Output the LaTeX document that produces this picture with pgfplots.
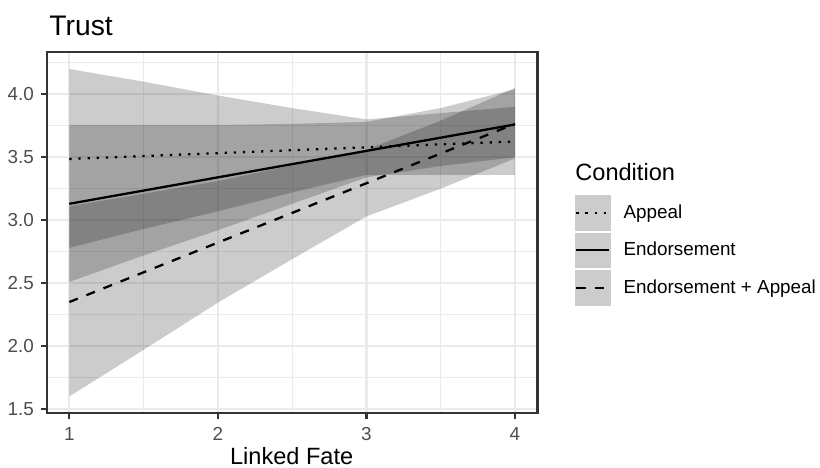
\documentclass[border=0pt]{standalone}
\usepackage{fontspec}
\setmainfont{Liberation Sans}
\usepackage{pgfplots}
\pgfplotsset{compat=1.18}
\definecolor{gray20}{HTML}{333333}
\definecolor{gray30}{HTML}{4D4D4D}
\definecolor{gray92}{HTML}{EBEBEB}
\definecolor{keyfill}{HTML}{CCCCCC}
\begin{document}
\begin{tikzpicture}
\path[use as bounding box] (-21.8pt,-25.2pt) rectangle (361.1pt,192.9pt);
\begin{axis}[
  scale only axis, width=229.2pt, height=168.6pt,
  at={(0,0)}, anchor=south west,
  xmin=0.848, xmax=4.152, ymin=1.468, ymax=4.335,
  xtick={1,2,3,4}, ytick={1.5,2.0,2.5,3.0,3.5,4.0},
  minor xtick={1.5,2.5,3.5}, minor ytick={1.75,2.25,2.75,3.25,3.75,4.25},
  /pgf/number format/assume math mode=true,
  yticklabel style={xshift=-3.05pt, /pgf/number format/fixed, /pgf/number format/fixed zerofill, /pgf/number format/precision=1},
  xticklabel style={yshift=-3.75pt},
  grid=both,
  major grid style={gray92, line width=1.07pt},
  minor grid style={gray92, line width=0.53pt},
  tick align=outside, xtick pos=left, ytick pos=left,
  major tick length=2.75pt, minor tick length=0pt,
  major tick style={gray20, line width=1.07pt},
  axis line style={gray20, line width=1pt},
  ticklabel style={font=\fontsize{8.8}{10}\selectfont, text=gray30, inner sep=0pt},
  legend style={at={(1.0764,0.6038)}, anchor=north west, draw=none, fill=none,
    inner sep=0pt, outer sep=0pt, row sep=0.9pt, column sep=6.1pt,
    font=\fontsize{8.8}{10}\selectfont, nodes={inner sep=0pt}},
  legend cell align=left,
  legend image code/.code={%
    \path[fill=keyfill, draw=none] (0pt,-8.3pt) rectangle (16.6pt,8.3pt);
    \draw[#1, fill=none] (0.6pt,0pt) -- (16pt,0pt);},
]
% ribbons (confidence bands)
\addplot[draw=none, fill=black, fill opacity=0.2, forget plot] coordinates {
 (1,4.20)(1.5,4.10)(2,3.99)(2.5,3.89)(3,3.80)(3.5,3.85)(4,3.90)
 (4,3.36)(3.5,3.36)(3,3.36)(2.5,3.22)(2,3.07)(1.5,2.93)(1,2.78)} -- cycle;
\addplot[draw=none, fill=black, fill opacity=0.2, forget plot] coordinates {
 (1,3.756)(1.5,3.756)(2,3.756)(2.5,3.765)(3,3.78)(3.5,3.89)(4,4.04)
 (4,3.50)(3.5,3.43)(3,3.34)(2.5,3.13)(2,2.92)(1.5,2.72)(1,2.51)} -- cycle;
\addplot[draw=none, fill=black, fill opacity=0.2, forget plot] coordinates {
 (1,3.11)(1.5,3.21)(2,3.31)(2.5,3.435)(3,3.56)(3.5,3.79)(4,4.05)
 (4,3.49)(3.5,3.25)(3,3.03)(2.5,2.69)(2,2.345)(1.5,1.97)(1,1.60)} -- cycle;
% fitted lines
\addplot[black, line width=1.07pt, dash pattern=on 1.07pt off 3.2pt] coordinates {(1,3.486)(4,3.625)};
\addlegendentry{Appeal}
\addplot[black, line width=1.07pt] coordinates {(1,3.13)(4,3.76)};
\addlegendentry{Endorsement}
\addplot[black, line width=1.07pt, dash pattern=on 4.3pt off 4.3pt] coordinates {(1,2.35)(4,3.765)};
\addlegendentry{Endorsement + Appeal}
\end{axis}
\node[anchor=base west, inner sep=0pt, font=\fontsize{13.2}{15}\selectfont] at (1.1pt,176.5pt) {Trust};
\node[anchor=base, inner sep=0pt, font=\fontsize{11}{13}\selectfont] at (114.4pt,-24.1pt) {Linked Fate};
\node[anchor=base west, inner sep=0pt, font=\fontsize{11}{13}\selectfont] at (246.7pt,108.4pt) {Condition};
\end{tikzpicture}
\end{document}
